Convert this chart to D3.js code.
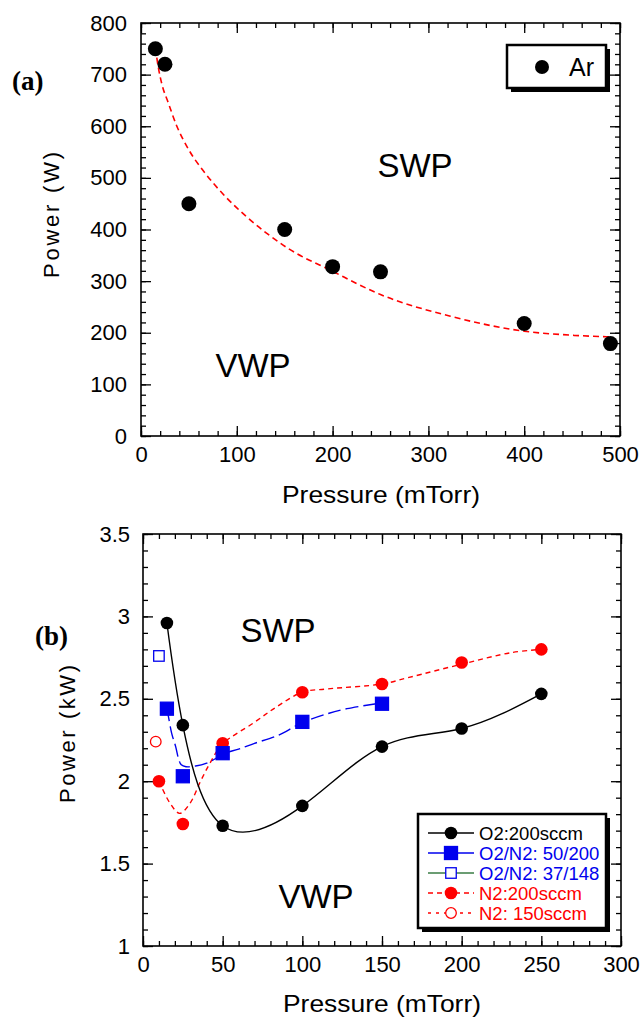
<!DOCTYPE html>
<html>
<head>
<meta charset="utf-8">
<script src="https://cdn.jsdelivr.net/npm/d3@7"></script>
<style>
  body { margin: 0; background: #fff; }
  svg { display: block; }
  text { font-family: "Liberation Sans", Arial, sans-serif; fill: #000; }
  .panel-tag { font-family: "Liberation Serif", "Times New Roman", serif; font-weight: bold; }
</style>
</head>
<body>
<svg id="chart" width="643" height="1019"></svg>
<script>
// ---------- Panel (a): Ar discharge, SWP/VWP transition power ----------
const arPressure = [15, 25, 50, 150, 200, 250, 400, 490];
const arPower    = [750, 720, 450, 400, 328, 318, 218, 179];
// dashed boundary curve between the two regimes
const arFitPressure = [15, 18, 22, 28, 37, 50, 67, 88, 110, 131, 153, 200, 250, 323, 400, 452, 490];
const arFitPower    = [752, 715, 680, 648, 602, 554, 509, 464, 425, 393, 364, 319, 274, 232, 203, 195, 192];
const aXTicks = [0, 100, 200, 300, 400, 500];
const aYTicks = [0, 100, 200, 300, 400, 500, 600, 700, 800];

// ---------- Panel (b): molecular gases ----------
const o2Pressure = [15, 25, 50, 100, 150, 200, 250];
const o2Power    = [2.96, 2.34, 1.73, 1.85, 2.21, 2.32, 2.53];

const o2n2Pressure = [15, 25, 50, 100, 150];
const o2n2Power    = [2.44, 2.03, 2.17, 2.36, 2.47];
const o2n2FitPressure = [15, 16, 18, 20.5, 22.5, 24, 27, 33, 40, 46, 50, 60, 70, 84, 100, 116, 128, 150];
const o2n2FitPower    = [2.44, 2.39, 2.29, 2.21, 2.13, 2.10, 2.088, 2.092, 2.11, 2.14, 2.165, 2.195, 2.23, 2.275, 2.355, 2.41, 2.44, 2.475];

const o2n2LowPressure = [10];
const o2n2LowPower    = [2.76];

const n2Pressure = [10, 25, 50, 100, 150, 200, 250];
const n2Power    = [2.00, 1.74, 2.23, 2.54, 2.59, 2.72, 2.80];
const n2FitPressure = [10, 17, 23, 29.5, 36, 42, 50, 69, 84, 100, 116, 150, 167, 200, 231, 250];
const n2FitPower    = [2.00, 1.866, 1.805, 1.866, 1.997, 2.109, 2.226, 2.351, 2.452, 2.54, 2.56, 2.59, 2.63, 2.71, 2.78, 2.80];

const n2LowPressure = [8];
const n2LowPower    = [2.24];

const bXTicks = [0, 50, 100, 150, 200, 250, 300];
const bYTicks = [1, 1.5, 2, 2.5, 3, 3.5];

const legendB = [
  { label: "O2:200sccm",      text: "#000", line: "#000",    dash: null,  mark: "circle", fill: "#000" },
  { label: "O2/N2: 50/200",   text: "#0000ee", line: "#0000ee", dash: null, mark: "square", fill: "#0000ee" },
  { label: "O2/N2: 37/148",   text: "#0000ee", line: "#3a7d44", dash: null, mark: "square", fill: "none" },
  { label: "N2:200sccm",      text: "#ff0000", line: "#ff0000", dash: "5,4", mark: "circle", fill: "#ff0000" },
  { label: "N2: 150sccm",     text: "#ff0000", line: "#ff0000", dash: "3,5", mark: "circle", fill: "none" }
];

const BLUE = "#0000ee", RED = "#ff0000";
const svg = d3.select("#chart");

function zip(xs, ys) { return xs.map((x, i) => [x, ys[i]]); }

// Box frame with inward major/minor ticks on all four sides
function drawFrame(g, x, y, xMajor, xMinorStep, yMajor, yMinorStep, xFmt, yFmt, pads) {
  const [x0, x1] = x.range(), [y0, y1] = y.range();
  const xd = x.domain(), yd = y.domain();
  const xMinor = d3.range(xd[0], xd[1] + 1e-9, xMinorStep);
  const yMinor = d3.range(yd[0], yd[1] + 1e-9, yMinorStep);

  const style = sel => {
    sel.select(".domain").remove();
    sel.selectAll("line").attr("stroke", "#000").attr("stroke-width", 1.3);
  };
  // minor ticks
  g.append("g").attr("transform", `translate(0,${y0})`)
    .call(d3.axisBottom(x).tickValues(xMinor).tickSize(-5).tickFormat("")).call(style);
  g.append("g").attr("transform", `translate(0,${y1})`)
    .call(d3.axisTop(x).tickValues(xMinor).tickSize(-5).tickFormat("")).call(style);
  g.append("g").attr("transform", `translate(${x0},0)`)
    .call(d3.axisLeft(y).tickValues(yMinor).tickSize(-5).tickFormat("")).call(style);
  g.append("g").attr("transform", `translate(${x1},0)`)
    .call(d3.axisRight(y).tickValues(yMinor).tickSize(-5).tickFormat("")).call(style);
  // major ticks with labels
  const bx = g.append("g").attr("transform", `translate(0,${y0})`)
    .call(d3.axisBottom(x).tickValues(xMajor).tickSize(-10).tickPadding(pads.x).tickFormat(xFmt)).call(style);
  g.append("g").attr("transform", `translate(0,${y1})`)
    .call(d3.axisTop(x).tickValues(xMajor).tickSize(-10).tickFormat("")).call(style);
  const ly = g.append("g").attr("transform", `translate(${x0},0)`)
    .call(d3.axisLeft(y).tickValues(yMajor).tickSize(-10).tickPadding(pads.y).tickFormat(yFmt)).call(style);
  g.append("g").attr("transform", `translate(${x1},0)`)
    .call(d3.axisRight(y).tickValues(yMajor).tickSize(-10).tickFormat("")).call(style);
  [bx, ly].forEach(a => a.selectAll("text")
    .style("font-family", '"Liberation Sans", Arial, sans-serif')
    .style("font-size", "22px").attr("fill", "#000"));
  // frame
  g.append("rect")
    .attr("x", x0).attr("y", y1).attr("width", x1 - x0).attr("height", y0 - y1)
    .attr("fill", "none").attr("stroke", "#000").attr("stroke-width", 1.6);
}

function legendBox(g, x, y, w, h) {
  g.append("rect").attr("x", x + 4).attr("y", y + 4).attr("width", w).attr("height", h).attr("fill", "#000");
  g.append("rect").attr("x", x).attr("y", y).attr("width", w).attr("height", h)
    .attr("fill", "#fff").attr("stroke", "#000").attr("stroke-width", 2.5);
}

function square(g, cx, cy, s, fill, stroke) {
  g.append("rect").attr("x", cx - s / 2).attr("y", cy - s / 2).attr("width", s).attr("height", s)
    .attr("fill", fill).attr("stroke", stroke).attr("stroke-width", 1.3);
}

// ================= Panel (a) =================
{
  const x = d3.scaleLinear([0, 500], [141, 620]);
  const y = d3.scaleLinear([0, 800], [436, 23]);
  const g = svg.append("g");

  drawFrame(g, x, y, aXTicks, 20, aYTicks, 20, d3.format("d"), d3.format("d"), { x: 10, y: 14 });

  g.append("path")
    .datum(zip(arFitPressure, arFitPower))
    .attr("fill", "none").attr("stroke", RED).attr("stroke-width", 1.6)
    .attr("stroke-dasharray", "6,4")
    .attr("d", d3.line().x(d => x(d[0])).y(d => y(d[1])).curve(d3.curveMonotoneX));

  g.selectAll("circle.ar").data(zip(arPressure, arPower)).join("circle")
    .attr("class", "ar").attr("cx", d => x(d[0])).attr("cy", d => y(d[1])).attr("r", 7.5)
    .attr("fill", "#000");

  g.append("text").attr("x", 415).attr("y", 177).attr("text-anchor", "middle")
    .style("font-size", "33px").text("SWP");
  g.append("text").attr("x", 253).attr("y", 377).attr("text-anchor", "middle")
    .style("font-size", "33px").text("VWP");

  legendBox(g, 507, 45, 99, 43);
  g.append("circle").attr("cx", 542).attr("cy", 67).attr("r", 7).attr("fill", "#000");
  g.append("text").attr("x", 569).attr("y", 76).style("font-size", "25px").text("Ar");

  g.append("text").attr("x", 381).attr("y", 503).attr("text-anchor", "middle")
    .style("font-size", "24px").attr("textLength", 198).attr("lengthAdjust", "spacingAndGlyphs")
    .text("Pressure (mTorr)");
  g.append("text").attr("transform", "translate(59,215) rotate(-90)").attr("text-anchor", "middle")
    .style("font-size", "22px").attr("textLength", 126).attr("lengthAdjust", "spacing")
    .text("Power (W)");
  g.append("text").attr("class", "panel-tag").attr("x", 12).attr("y", 90)
    .style("font-size", "27px").text("(a)");
}

// ================= Panel (b) =================
{
  const x = d3.scaleLinear([0, 300], [143, 621]);
  const y = d3.scaleLinear([1, 3.5], [946, 534]);
  const g = svg.append("g");

  drawFrame(g, x, y, bXTicks, 10, bYTicks, 0.1, d3.format("d"), d3.format("~g"), { x: 10, y: 13 });

  const line = d3.line().x(d => x(d[0])).y(d => y(d[1]));

  g.append("path").datum(zip(n2FitPressure, n2FitPower))
    .attr("fill", "none").attr("stroke", RED).attr("stroke-width", 1.4).attr("stroke-dasharray", "5,4")
    .attr("d", line.curve(d3.curveCatmullRom.alpha(0.5)));
  g.append("path").datum(zip(o2n2FitPressure, o2n2FitPower))
    .attr("fill", "none").attr("stroke", BLUE).attr("stroke-width", 1.4).attr("stroke-dasharray", "13,5")
    .attr("d", line.curve(d3.curveCatmullRom.alpha(0.5)));
  g.append("path").datum(zip(o2Pressure, o2Power))
    .attr("fill", "none").attr("stroke", "#000").attr("stroke-width", 1.4)
    .attr("d", line.curve(d3.curveNatural));

  g.selectAll("circle.o2").data(zip(o2Pressure, o2Power)).join("circle")
    .attr("class", "o2").attr("cx", d => x(d[0])).attr("cy", d => y(d[1])).attr("r", 6.3).attr("fill", "#000");
  g.selectAll("circle.n2").data(zip(n2Pressure, n2Power)).join("circle")
    .attr("class", "n2").attr("cx", d => x(d[0])).attr("cy", d => y(d[1])).attr("r", 6.3).attr("fill", RED);
  g.selectAll("circle.n2low").data(zip(n2LowPressure, n2LowPower)).join("circle")
    .attr("class", "n2low").attr("cx", d => x(d[0])).attr("cy", d => y(d[1])).attr("r", 5.3)
    .attr("fill", "#fff").attr("stroke", RED).attr("stroke-width", 1.3);
  zip(o2n2Pressure, o2n2Power).forEach(d => square(g, x(d[0]), y(d[1]), 13, BLUE, BLUE));
  zip(o2n2LowPressure, o2n2LowPower).forEach(d => square(g, x(d[0]), y(d[1]), 10.5, "#fff", BLUE));

  g.append("text").attr("x", 278).attr("y", 642).attr("text-anchor", "middle")
    .style("font-size", "33px").text("SWP");
  g.append("text").attr("x", 316).attr("y", 908).attr("text-anchor", "middle")
    .style("font-size", "33px").text("VWP");

  // legend
  legendBox(g, 418, 814, 188, 114);
  legendB.forEach((e, i) => {
    const cy = 833 + i * 20;
    g.append("line").attr("x1", 428).attr("x2", 474).attr("y1", cy).attr("y2", cy)
      .attr("stroke", e.line).attr("stroke-width", 1.4)
      .attr("stroke-dasharray", e.dash);
    const mc = e.label.startsWith("N2") ? RED : (e.mark === "square" ? BLUE : "#000");
    if (e.mark === "circle") {
      g.append("circle").attr("cx", 451).attr("cy", cy).attr("r", e.fill === "none" ? 5.3 : 6.3)
        .attr("fill", e.fill === "none" ? "#fff" : e.fill)
        .attr("stroke", e.fill === "none" ? mc : "none").attr("stroke-width", 1.3);
    } else {
      if (e.fill === "none") square(g, 451, cy, 10.5, "#fff", BLUE);
      else square(g, 451, cy, 13, BLUE, BLUE);
    }
    g.append("text").attr("x", 479).attr("y", cy + 6.5).style("font-size", "18.5px")
      .attr("fill", e.text).style("fill", e.text).text(e.label);
  });

  g.append("text").attr("x", 382).attr("y", 1012).attr("text-anchor", "middle")
    .style("font-size", "24px").attr("textLength", 198).attr("lengthAdjust", "spacingAndGlyphs")
    .text("Pressure (mTorr)");
  g.append("text").attr("transform", "translate(75,734) rotate(-90)").attr("text-anchor", "middle")
    .style("font-size", "22px").attr("textLength", 138).attr("lengthAdjust", "spacing")
    .text("Power (kW)");
  g.append("text").attr("class", "panel-tag").attr("x", 35).attr("y", 645)
    .style("font-size", "27px").text("(b)");
}
</script>
</body>
</html>
